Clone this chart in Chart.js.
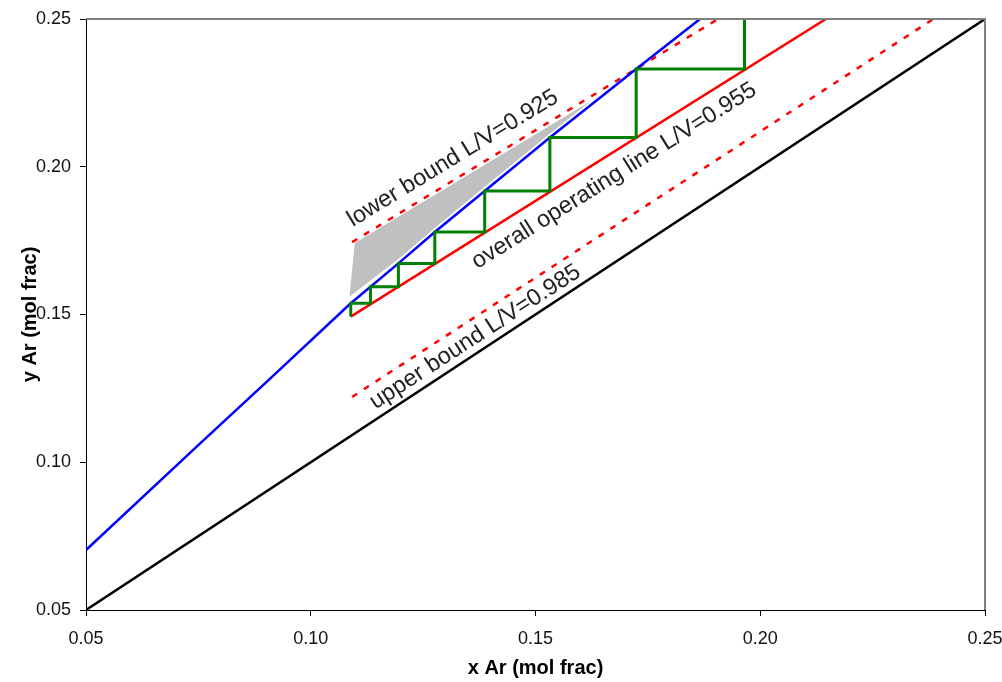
<!DOCTYPE html>
<html>
<head>
<meta charset="utf-8">
<script src="https://cdn.jsdelivr.net/npm/chart.js@4.4.1/dist/chart.umd.min.js"></script>
<style>
  html, body { margin: 0; padding: 0; background: #fff; }
</style>
</head>
<body>
<canvas id="chart" width="1002" height="682"></canvas>
<script>
// axis ticks
const xTicks = [0.05, 0.10, 0.15, 0.20, 0.25];
const yTicks = [0.05, 0.10, 0.15, 0.20, 0.25];

// equilibrium curve (blue)
const eqX = [0.05, 0.0754, 0.0906, 0.1089, 0.1133, 0.1195, 0.1276, 0.1387, 0.1532, 0.1724, 0.1866];
const eqY = [0.0703, 0.1064, 0.1278, 0.1538, 0.1594, 0.1673, 0.1779, 0.1918, 0.2099, 0.2331, 0.25];

// y = x diagonal
const diagX = [0.05, 0.25];
const diagY = [0.05, 0.25];

// overall operating line L/V=0.955
const opX = [0.1089, 0.2146];
const opY = [0.1493, 0.25];

// lower bound L/V=0.925 and upper bound L/V=0.985 (dashed)
const lbX = [0.1092, 0.1906];
const lbY = [0.1745, 0.25];
const ubX = [0.1092, 0.2385];
const ubY = [0.1221, 0.25];

// stages: liquid x and vapour y at each step
const stageX = [0.1089, 0.1133, 0.1195, 0.1276, 0.1387, 0.1532, 0.1724, 0.1965];
const stageY = [0.1538, 0.1594, 0.1673, 0.1779, 0.1918, 0.2099, 0.2331, 0.2635];
const stageStartY = 0.1493;

// grey wedge between lower bound and equilibrium
const wedgeX = [0.1086, 0.1098, 0.1625, 0.1532, 0.1387, 0.1276, 0.1195, 0.1086];
const wedgeY = [0.1560, 0.1742, 0.2224, 0.2112, 0.1932, 0.1793, 0.1688, 0.1560];

const pts = (xs, ys) => xs.map((v, i) => ({ x: v, y: ys[i] }));

// staircase: up to the equilibrium curve, across to the operating line
const stairs = [{ x: stageX[0], y: stageStartY }];
stageX.forEach((sx, i) => {
  if (i > 0) stairs.push({ x: sx, y: stageY[i - 1] });
  stairs.push({ x: sx, y: stageY[i] });
});

const lineLabels = [
  { text: 'lower bound L/V=0.925', at: [0.1316, 0.2028], line: [lbX, lbY] },
  { text: 'overall operating line L/V=0.955', at: [0.1675, 0.1969], line: [opX, opY] },
  { text: 'upper bound L/V=0.985', at: [0.1366, 0.1424], line: [ubX, ubY] }
];

const FONT = '"Liberation Sans", Arial, sans-serif';

const textOnLines = {
  id: 'textOnLines',
  afterDatasetsDraw(chart) {
    const { ctx, scales: { x, y } } = chart;
    ctx.save();
    ctx.font = '23.5px ' + FONT;
    ctx.fillStyle = '#222';
    ctx.textAlign = 'center';
    ctx.textBaseline = 'middle';
    lineLabels.forEach(l => {
      const [lx, ly] = l.line;
      const dx = x.getPixelForValue(lx[1]) - x.getPixelForValue(lx[0]);
      const dy = y.getPixelForValue(ly[1]) - y.getPixelForValue(ly[0]);
      ctx.save();
      ctx.translate(x.getPixelForValue(l.at[0]), y.getPixelForValue(l.at[1]));
      ctx.rotate(Math.atan2(dy, dx));
      ctx.fillText(l.text, 0, 0);
      ctx.restore();
    });
    ctx.restore();
  }
};

// grey top and right edges of the plot box
const frame = {
  id: 'frame',
  afterDatasetsDraw(chart) {
    const { ctx, chartArea: a } = chart;
    ctx.save();
    ctx.strokeStyle = '#808080';
    ctx.lineWidth = 2;
    ctx.beginPath();
    ctx.moveTo(a.left, a.top);
    ctx.lineTo(a.right, a.top);
    ctx.lineTo(a.right, a.bottom);
    ctx.stroke();
    ctx.restore();
  }
};

const line = (data, color, extra) => Object.assign({
  data, borderColor: color, borderWidth: 2.5, pointRadius: 0, showLine: true, fill: false
}, extra);

new Chart(document.getElementById('chart'), {
  type: 'scatter',
  data: {
    datasets: [
      line(stairs, '#008000', { borderWidth: 3, order: 1 }),
      line(pts(eqX, eqY), '#0000ff', { order: 2 }),
      line(pts(opX, opY), '#ff0000', { order: 3 }),
      line(pts(lbX, lbY), '#ff0000', { borderDash: [6, 8], order: 4 }),
      line(pts(ubX, ubY), '#ff0000', { borderDash: [6, 8], order: 5 }),
      line(pts(diagX, diagY), '#000000', { order: 6 }),
      line(pts(wedgeX, wedgeY), '#c0c0c0', { borderWidth: 0, fill: 'shape', backgroundColor: '#c0c0c0', order: 7 })
    ]
  },
  options: {
    responsive: false,
    animation: false,
    devicePixelRatio: 1,
    layout: { padding: { left: 0, top: 19, right: 17, bottom: 0 } },
    plugins: { legend: { display: false }, tooltip: { enabled: false } },
    scales: {
      x: {
        type: 'linear',
        min: xTicks[0],
        max: xTicks[xTicks.length - 1],
        afterBuildTicks: s => { s.ticks = xTicks.map(v => ({ value: v })); },
        afterFit: s => { s.height = 72; s.paddingLeft = 0; s.paddingRight = 0; },
        grid: { drawOnChartArea: false, drawTicks: true, tickLength: 6, color: '#000' },
        border: { display: true, color: '#000', width: 1 },
        ticks: { padding: 12, color: '#111', font: { family: FONT, size: 18 }, callback: v => v.toFixed(2), maxRotation: 0 },
        title: { display: true, text: 'x Ar (mol frac)', color: '#000', font: { family: FONT, size: 20, weight: 'bold' }, padding: { top: 0, bottom: 2 } }
      },
      y: {
        type: 'linear',
        min: yTicks[0],
        max: yTicks[yTicks.length - 1],
        afterBuildTicks: s => { s.ticks = yTicks.map(v => ({ value: v })); },
        afterFit: s => { s.width = 86; s.paddingTop = 0; s.paddingBottom = 0; },
        grid: { drawOnChartArea: false, drawTicks: true, tickLength: 6, color: '#000' },
        border: { display: true, color: '#000', width: 1 },
        ticks: { padding: 9, color: '#111', font: { family: FONT, size: 18 }, callback: v => v.toFixed(2) },
        title: { display: true, text: 'y Ar (mol frac)', color: '#000', font: { family: FONT, size: 20, weight: 'bold' }, padding: { top: 18, bottom: 0 } }
      }
    }
  },
  plugins: [frame, textOnLines]
});
</script>
</body>
</html>
